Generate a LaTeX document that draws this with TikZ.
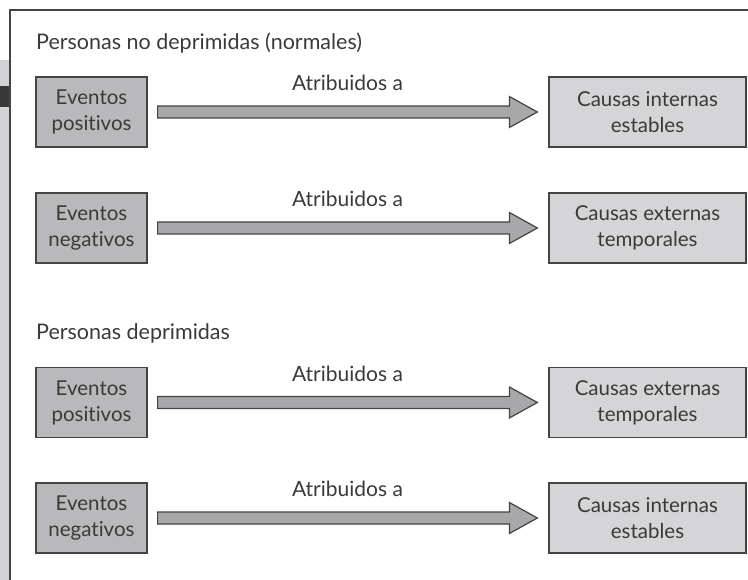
\documentclass[tikz,border=0pt]{standalone}
\usepackage{fontspec}
\setmainfont[Ligatures={NoCommon}]{Lato}
\usetikzlibrary{calc}
\definecolor{txt}{HTML}{3A3A3A}
\definecolor{lbox}{HTML}{B9B9BC}
\definecolor{rbox}{HTML}{D5D5D7}
\definecolor{arrowfill}{HTML}{A8A8AB}
\definecolor{edge}{HTML}{444444}
\definecolor{strip}{HTML}{D2D2D4}
\tikzset{
  evbox/.style={draw=edge, line width=1.2pt, fill=lbox, minimum width=111pt, minimum height=70pt,
    inner sep=0pt, align=center, text=txt, font=\fontsize{20.5}{26}\selectfont},
  causebox/.style={draw=edge, line width=1.2pt, fill=rbox, minimum width=197pt, minimum height=70pt,
    inner sep=0pt, align=center, text=txt, font=\fontsize{20.5}{26}\selectfont},
  heading/.style={anchor=west, text=txt, inner sep=0pt, font=\fontsize{21.5}{24}\selectfont},
  arrlabel/.style={text=txt, inner sep=0pt, font=\fontsize{21}{24}\selectfont},
  fatarrow/.style={draw=edge, line width=1.2pt, fill=arrowfill, line join=miter}
}
\newcommand{\fatarrowfrom}[3]{%
  \path let \p1=(#1.east), \p2=(#2.west) in
    coordinate (s) at (\x1+10pt,\y1)
    coordinate (e) at (\x2-11pt,\y2);
  \draw[fatarrow] let \p1=(s), \p2=(e) in
    (\x1,\y1+6pt) -- (\x2-28pt,\y1+6pt) -- (\x2-28pt,\y1+15.5pt) -- (\x2,\y2)
    -- (\x2-28pt,\y1-15.5pt) -- (\x2-28pt,\y1-6pt) -- (\x1,\y1-6pt) -- cycle;
  \node[arrlabel] (#3) at ($(s)!0.5!(e)+(0,29pt)$) {Atribuidos a};
}
\begin{document}
\begin{tikzpicture}[x=1pt,y=-1pt]
\useasboundingbox (0,0) rectangle (748,580);
% left strip
\fill[strip] (0,60) rectangle (10,580);
\fill[black!78] (0,86) rectangle (10,107);
% frame
\draw[edge, line width=1.4pt] (10,580) -- (10,10) -- (748,10);
% headings
\node[heading] (h1) at (36,43) {Personas no deprimidas (normales)};
\node[heading] (h2) at (36,333) {Personas deprimidas};
% row 1
\node[evbox] (a1) at (91.5,112) {Eventos\\positivos};
\node[causebox] (b1) at (647.5,112) {Causas internas\\estables};
% row 2
\node[evbox] (a2) at (91.5,228) {Eventos\\negativos};
\node[causebox] (b2) at (647.5,228) {Causas externas\\temporales};
% row 3
\node[evbox] (a3) at (91.5,402.5) {Eventos\\positivos};
\node[causebox] (b3) at (647.5,402.5) {Causas externas\\temporales};
% row 4
\node[evbox] (a4) at (91.5,518) {Eventos\\negativos};
\node[causebox] (b4) at (647.5,518) {Causas internas\\estables};
% arrows
\fatarrowfrom{a1}{b1}{l1}
\fatarrowfrom{a2}{b2}{l2}
\fatarrowfrom{a3}{b3}{l3}
\fatarrowfrom{a4}{b4}{l4}
\end{tikzpicture}
\end{document}
